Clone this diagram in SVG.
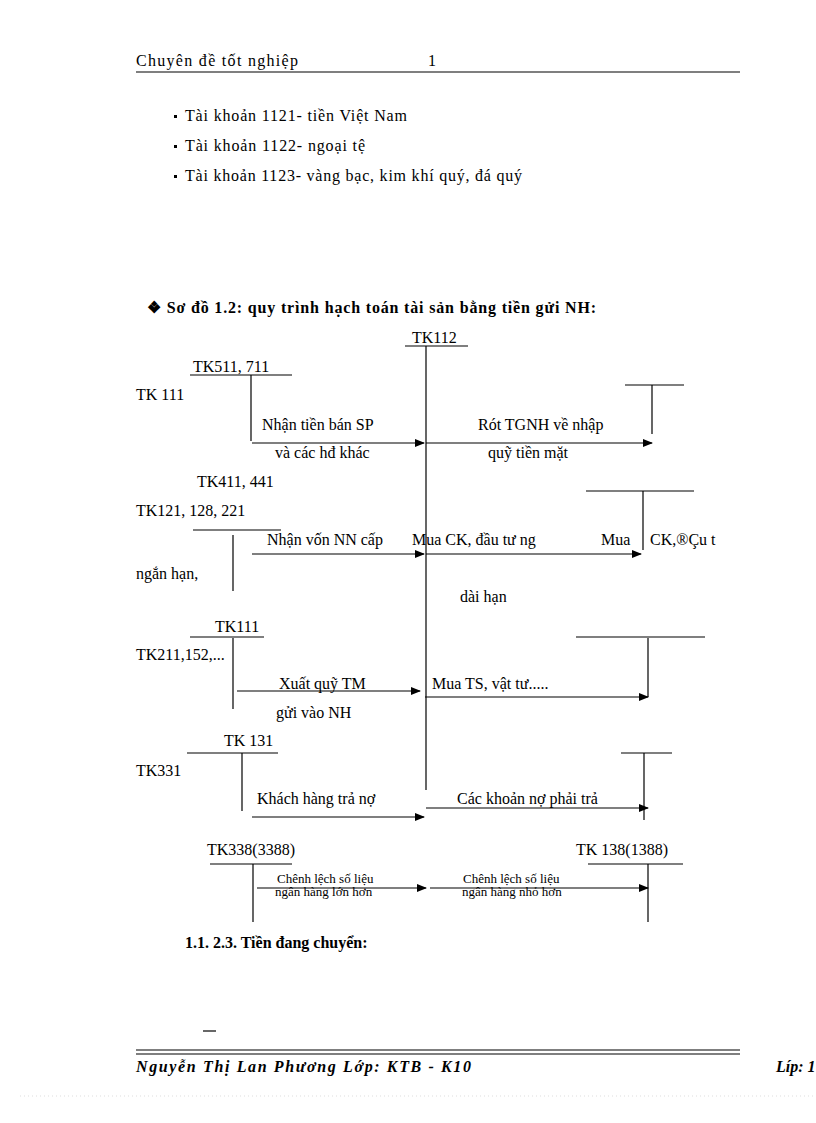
<svg xmlns="http://www.w3.org/2000/svg" width="816" height="1123" viewBox="0 0 816 1123">
<style>
text{font-family:"Liberation Serif","Times New Roman",serif;font-size:16px;fill:#000}
.b{font-weight:bold}
.s{font-size:13px}
.l{stroke:#000;stroke-width:1.2;fill:none}
.a{stroke:#000;stroke-width:1.2;fill:none;marker-end:url(#ah)}
</style>
<defs><marker id="ah" markerWidth="10" markerHeight="8" refX="9" refY="4" orient="auto" markerUnits="userSpaceOnUse"><path d="M0,0 L10,4 L0,8 Z" fill="#000"/></marker></defs>
<rect width="816" height="1123" fill="#fff"/>
<g id="header">
<text x="136" y="66" font-size="17" textLength="162">Chuyên đề tốt nghiệp</text><text x="428" y="66" font-size="17">1</text>
<line class="l" x1="136" y1="72" x2="740" y2="72" stroke-width="2"/>
</g>
<g id="bullets">
<rect x="174" y="115" width="3" height="3"/><text x="185" y="121" textLength="222">Tài  khoản  1121- tiền Việt Nam</text>
<rect x="174" y="145" width="3" height="3"/><text x="185" y="151" textLength="180">Tài  khoản  1122- ngoại tệ</text>
<rect x="174" y="175" width="3" height="3"/><text x="185" y="181" textLength="337">Tài  khoản  1123- vàng  bạc, kim khí  quý,  đá quý</text>
</g>
<text class="b" x="147" y="313" textLength="449">❖  Sơ đồ 1.2:  quy trình hạch toán tài sản bằng tiền gửi NH:</text>
<g id="tk112"><text x="412" y="343">TK112</text><line class="l" x1="405" y1="346" x2="468" y2="346"/><line class="l" x1="426" y1="346" x2="426" y2="790"/></g>
<g id="tk511"><text x="193" y="372">TK511, 711</text><line class="l" x1="190" y1="375" x2="292" y2="375"/><line class="l" x1="251" y1="375" x2="251" y2="441"/></g>
<g id="tk111a"><text x="136" y="400">TK  111</text><line class="l" x1="625" y1="385" x2="684" y2="385"/><line class="l" x1="652" y1="385" x2="652" y2="434"/></g>
<g id="tk411"><text x="197" y="487">TK411, 441</text><line class="l" x1="193" y1="530" x2="281" y2="530"/><line class="l" x1="233" y1="535" x2="233" y2="591"/></g>
<g id="tk121"><text x="136" y="516">TK121, 128, 221</text><text x="136" y="579">ngắn hạn,</text><line class="l" x1="586" y1="491" x2="694" y2="491"/><line class="l" x1="643" y1="491" x2="643" y2="550"/></g>
<g id="tk111b"><text x="215" y="632">TK111</text><line class="l" x1="190" y1="637" x2="264" y2="637"/><line class="l" x1="233" y1="638" x2="233" y2="709"/></g>
<g id="tk211"><text x="136" y="660">TK211,152,...</text><line class="l" x1="576" y1="637" x2="705" y2="637"/><line class="l" x1="648" y1="638" x2="648" y2="697"/></g>
<g id="tk131"><text x="224" y="746">TK 131</text><line class="l" x1="187" y1="753" x2="278" y2="753"/><line class="l" x1="242" y1="753" x2="242" y2="811"/></g>
<g id="tk331"><text x="136" y="776">TK331</text><line class="l" x1="621" y1="753" x2="672" y2="753"/><line class="l" x1="644" y1="753" x2="644" y2="820"/></g>
<g id="tk338"><text x="207" y="855">TK338(3388)</text><line class="l" x1="210" y1="864" x2="292" y2="864"/><line class="l" x1="253" y1="864" x2="253" y2="922"/></g>
<g id="tk138"><text x="576" y="855">TK 138(1388)</text><line class="l" x1="588" y1="864" x2="683" y2="864"/><line class="l" x1="648" y1="864" x2="648" y2="922"/></g>
<g id="connectors">
<line class="a" x1="252" y1="443" x2="424" y2="443"/>
<line class="a" x1="426" y1="443" x2="652" y2="443"/>
<line class="a" x1="252" y1="554" x2="424" y2="554"/>
<line class="a" x1="426" y1="554" x2="641" y2="554"/>
<line class="a" x1="237" y1="691" x2="420" y2="691"/>
<line class="a" x1="425" y1="697" x2="648" y2="697"/>
<line class="a" x1="252" y1="817" x2="424" y2="817"/>
<line class="a" x1="426" y1="808" x2="648" y2="808"/>
<line class="a" x1="257" y1="888" x2="426" y2="888"/>
<line class="a" x1="430" y1="888" x2="648" y2="888"/>
</g>
<g id="labels">
<text x="262" y="430">Nhận tiền bán SP</text><text x="275" y="458">và  các hđ khác</text>
<text x="478" y="430">Rót TGNH về nhập</text><text x="488" y="458">quỹ tiền mặt</text>
<text x="267" y="545">Nhận vốn NN cấp</text><text x="412" y="545">Mua CK, đầu tư ng</text>
<text x="601" y="545">Mua</text><text x="650" y="545">CK,®Çu    t</text>
<text x="460" y="602">dài hạn</text>
<text x="279" y="689">Xuất quỹ TM</text><text x="276" y="718">gửi vào NH</text>
<text x="432" y="689">Mua TS, vật tư.....</text>
<text x="257" y="804">Khách hàng trả nợ</text><text x="457" y="804">Các khoản nợ phải trả</text>
<text class="s" x="277" y="883">Chênh lệch số  liệu</text><text class="s" x="275" y="896">ngân hàng  lớn hơn</text>
<text class="s" x="463" y="883">Chênh lệch số  liệu</text><text class="s" x="462" y="896">ngân hàng nhỏ  hơn</text>
</g>
<text class="b" x="185" y="948">1.1. 2.3. Tiền đang chuyển:</text>
<line class="l" x1="203" y1="1031" x2="216" y2="1031"/>
<g id="footer">
<line class="l" x1="136" y1="1050" x2="740" y2="1050"/><line class="l" x1="136" y1="1054" x2="740" y2="1054"/>
<text class="b" x="136" y="1072" font-size="17" font-style="italic" textLength="335">Nguyễn Thị Lan Phương Lớp: KTB - K10</text>
<text class="b" x="776" y="1072" font-size="17" font-style="italic">Líp: 1</text>
<line x1="20" y1="1096" x2="816" y2="1096" stroke="#ddd" stroke-dasharray="1,3"/>
</g>
</svg>
